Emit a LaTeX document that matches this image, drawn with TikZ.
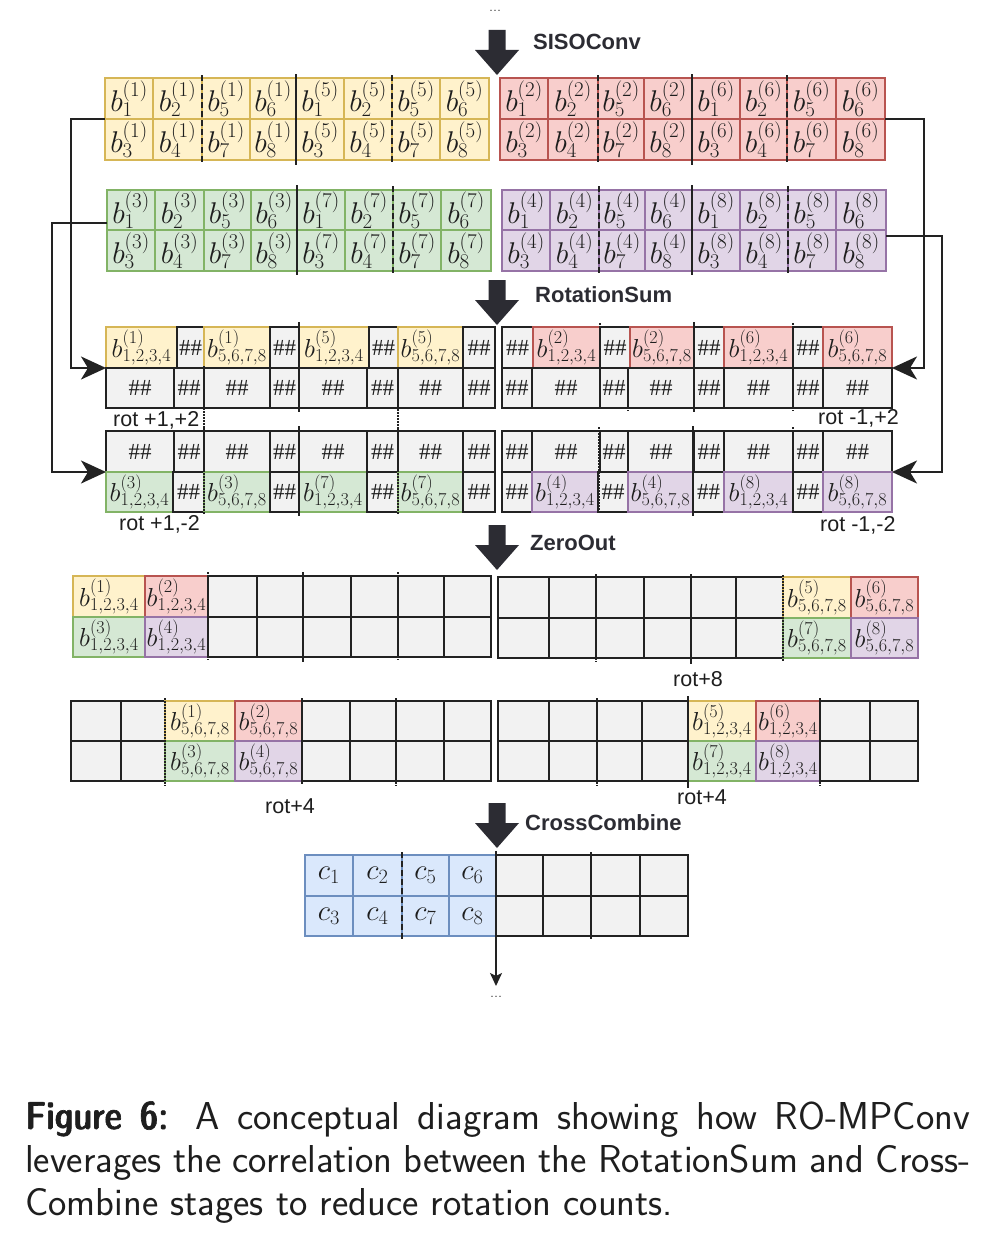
\RequirePackage{fix-cm}
\documentclass[tikz,border=0pt]{standalone}
\usepackage{fontspec}
\newfontfamily\arial{Liberation Sans}
\newfontfamily\tms{Liberation Serif}
\newfontfamily\capb{lmsansdemicond10-regular.otf}[FakeBold=1.6]
\usetikzlibrary{arrows.meta}
\definecolor{yfill}{HTML}{FFF2CC}\definecolor{yline}{HTML}{D6B656}
\definecolor{rfill}{HTML}{F8CECC}\definecolor{rline}{HTML}{B85450}
\definecolor{gfill}{HTML}{D5E8D4}\definecolor{gline}{HTML}{82B366}
\definecolor{pfill}{HTML}{E1D5E7}\definecolor{pline}{HTML}{9673A6}
\definecolor{bfill}{HTML}{DAE8FC}\definecolor{bline}{HTML}{6C8EBF}
\definecolor{kfill}{HTML}{F2F2F2}\definecolor{kline}{HTML}{222222}
\definecolor{arrc}{HTML}{2C2C33}\definecolor{txt}{HTML}{1E1E1E}
\newcommand\cel[7]{\node[#6,anchor=north west,inner sep=0pt,outer sep=0pt,minimum width={(#4)-(#2)},minimum height={(#5)-(#3)}] (#1) at (#2,#3) {#7};}
\newcommand\cellrow[5]{\foreach \xa/\xb/\st/\tx [count=\n] in {#4} {\cel{#1\n}{\xa}{#2}{\xb}{#3}{\st}{\fontsize{#5}{#5}\selectfont\tx}}}
\newcommand\bigrow[5]{\foreach \xa/\xb/\sa/\sb [count=\n] in {#5} {\cel{#1\n}{\xa}{#3}{\xb}{#4}{#2}{\fontsize{30}{30}\selectfont$b^{(\sa)}_{\sb}$}}}
\newcommand\hh{{\tms\fontsize{23}{23}\selectfont\#\#}}
\newcommand\bigarr[2]{\fill[arrc] (#1-8.5,#2) -- (#1+8.5,#2) -- (#1+8.5,#2+20) -- (#1+22,#2+20) -- (#1,#2+45) -- (#1-22,#2+20) -- (#1-8.5,#2+20) -- cycle;}
\begin{document}
\begin{tikzpicture}[x=1pt,y=-1pt,
  cY/.style={fill=yfill,draw=yline,line width=2.5pt,text=txt},
  cR/.style={fill=rfill,draw=rline,line width=2.5pt,text=txt},
  cG/.style={fill=gfill,draw=gline,line width=2.5pt,text=txt},
  cP/.style={fill=pfill,draw=pline,line width=2.5pt,text=txt},
  cB/.style={fill=bfill,draw=bline,line width=2.5pt,text=txt},
  cK/.style={fill=kfill,draw=kline,line width=2.2pt,text=txt},
  sepS/.style={draw=kline,line width=2.2pt},
  sepD/.style={draw=kline,line width=2.2pt,dash pattern=on 6pt off 3pt},
  sepT/.style={draw=kline,line width=2pt,dash pattern=on 1.5pt off 1.5pt},
  conn/.style={draw=kline,line width=2pt,-{Stealth[length=25pt,width=23pt,inset=7pt]}},
  conn2/.style={draw=kline,line width=1.6pt,-{Stealth[length=13pt,width=12pt,inset=3pt]}},
  stage/.style={font=\arial\bfseries\fontsize{22}{24}\selectfont,text=arrc,inner sep=0pt,anchor=west},
  rlab/.style={font=\arial\fontsize{21.5}{24}\selectfont,text=txt,inner sep=0pt,anchor=west},
  dots/.style={font=\fontsize{16}{16}\selectfont,text=txt,inner sep=0pt,anchor=base},
  capt/.style={anchor=base west,inner sep=0pt,text=txt,font=\sffamily\fontsize{38.9}{43}\selectfont}]
\fill[white] (0,0) rectangle (993,1247);
\useasboundingbox (0,0) rectangle (993,1247);

% ---------- SISOConv ----------
\node[dots] (topdots) at (495,12) {...};
\bigarr{497}{30}
\node[stage] (siso) at (533,42) {SISOConv};

\bigrow{ya}{cY}{78}{119}{105/153/1/1,153/202/1/2,202/250/1/5,250/296/1/6,296/344/5/1,344/392/5/2,392/440/5/5,440/489/5/6}
\bigrow{yb}{cY}{119}{160}{105/153/1/3,153/202/1/4,202/250/1/7,250/296/1/8,296/344/5/3,344/392/5/4,392/440/5/7,440/489/5/8}
\bigrow{ra}{cR}{78}{119}{500/548/2/1,548/598/2/2,598/644/2/5,644/692/2/6,692/740/6/1,740/787/6/2,787/836/6/5,836/885/6/6}
\bigrow{rb}{cR}{119}{160}{500/548/2/3,548/598/2/4,598/644/2/7,644/692/2/8,692/740/6/3,740/787/6/4,787/836/6/7,836/885/6/8}
\bigrow{ga}{cG}{190}{230}{107/155/3/1,155/204/3/2,204/251/3/5,251/297/3/6,297/345/7/1,345/393/7/2,393/441/7/5,441/491/7/6}
\bigrow{gb}{cG}{230}{271}{107/155/3/3,155/204/3/4,204/251/3/7,251/297/3/8,297/345/7/3,345/393/7/4,393/441/7/7,441/491/7/8}
\bigrow{pa}{cP}{190}{230}{502/550/4/1,550/599/4/2,599/645/4/5,645/692/4/6,692/740/8/1,740/788/8/2,788/836/8/5,836/886/8/6}
\bigrow{pb}{cP}{230}{271}{502/550/4/3,550/599/4/4,599/645/4/7,645/692/4/8,692/740/8/3,740/788/8/4,788/836/8/7,836/886/8/8}

\draw[sepD] (202,75) -- (202,163);
\draw[sepS] (296,74) -- (296,165);
\draw[sepD] (392,75) -- (392,163);
\draw[sepD] (598,75) -- (598,163);
\draw[sepS] (692,74) -- (692,165);
\draw[sepD] (787,75) -- (787,163);
\draw[sepS] (297,185) -- (297,275);
\draw[sepD] (393,186) -- (393,275);
\draw[sepD] (599,186) -- (599,275);
\draw[sepS] (692,185) -- (692,275);
\draw[sepD] (788,186) -- (788,275);

% ---------- RotationSum ----------
\bigarr{497}{280}
\node[stage] (rsum) at (535,295) {RotationSum};

\cellrow{la}{327}{368}{106/177/cY/{$b^{(1)}_{1,2,3,4}$},177/204/cK/\hh,204/270/cY/{$b^{(1)}_{5,6,7,8}$},270/299/cK/\hh,299/369/cY/{$b^{(5)}_{1,2,3,4}$},369/398/cK/\hh,398/463/cY/{$b^{(5)}_{5,6,7,8}$},463/495/cK/\hh}{26}
\cellrow{lb}{368}{408}{106/174/cK/\hh,174/204/cK/\hh,204/270/cK/\hh,270/299/cK/\hh,299/367/cK/\hh,367/398/cK/\hh,398/463/cK/\hh,463/495/cK/\hh}{26}
\cellrow{lc}{431}{472}{106/174/cK/\hh,174/204/cK/\hh,204/270/cK/\hh,270/299/cK/\hh,299/367/cK/\hh,367/398/cK/\hh,398/463/cK/\hh,463/495/cK/\hh}{26}
\cellrow{ld}{472}{512}{106/173/cG/{$b^{(3)}_{1,2,3,4}$},173/204/cK/\hh,204/270/cG/{$b^{(3)}_{5,6,7,8}$},270/299/cK/\hh,299/367/cG/{$b^{(7)}_{1,2,3,4}$},367/398/cK/\hh,398/463/cG/{$b^{(7)}_{5,6,7,8}$},463/495/cK/\hh}{26}

\cellrow{ma}{327}{368}{502/533/cK/\hh,533/600/cR/{$b^{(2)}_{1,2,3,4}$},600/630/cK/\hh,630/694/cR/{$b^{(2)}_{5,6,7,8}$},694/724/cK/\hh,724/793/cR/{$b^{(6)}_{1,2,3,4}$},793/823/cK/\hh,823/892/cR/{$b^{(6)}_{5,6,7,8}$}}{26}
\cellrow{mb}{368}{408}{502/532/cK/\hh,532/600/cK/\hh,600/628/cK/\hh,628/694/cK/\hh,694/724/cK/\hh,724/793/cK/\hh,793/823/cK/\hh,823/892/cK/\hh}{26}
\cellrow{mc}{431}{472}{502/532/cK/\hh,532/600/cK/\hh,600/628/cK/\hh,628/694/cK/\hh,694/724/cK/\hh,724/793/cK/\hh,793/823/cK/\hh,823/892/cK/\hh}{26}
\cellrow{md}{472}{512}{502/532/cK/\hh,532/598/cP/{$b^{(4)}_{1,2,3,4}$},598/628/cK/\hh,628/693/cP/{$b^{(4)}_{5,6,7,8}$},693/724/cK/\hh,724/793/cP/{$b^{(8)}_{1,2,3,4}$},793/823/cK/\hh,823/892/cP/{$b^{(8)}_{5,6,7,8}$}}{26}

\draw[sepT] (204,366) -- (204,428);
\draw[sepS] (299,322) -- (299,412);
\draw[sepT] (398,406) -- (398,428);
\draw[sepT] (204,428) -- (204,514);
\draw[sepS] (299,426) -- (299,516);
\draw[sepT] (398,428) -- (398,514);
\draw[sepT] (600,323) -- (600,368);
\draw[sepT] (628,368) -- (628,411);
\draw[sepS] (694,322) -- (694,412);
\draw[sepT] (793,323) -- (793,411);
\draw[sepT] (599,427) -- (599,514);
\draw[sepS] (693,426) -- (693,516);
\draw[sepT] (793,427) -- (793,514);

\node[rlab] (r12) at (113,420) {rot +1,+2};
\node[rlab] (r1m2) at (119,524) {rot +1,-2};
\node[rlab] (rm12) at (818,418) {rot -1,+2};
\node[rlab] (rm1m2) at (820,525) {rot -1,-2};

\draw[conn] (ya1.south west) -- ++(-34,0) |- (la1.south west);
\draw[conn] ([yshift=7pt]ga1.south west) -- ++(-55,0) |- (ld1.north west);
\draw[conn] (ra8.south east) -- ++(39,0) |- (ma8.south east);
\draw[conn] ([yshift=-6pt]pa8.south east) -- ++(56,0) |- (md8.north east);

% ---------- ZeroOut ----------
\bigarr{497}{525}
\node[stage] (zout) at (530,543) {ZeroOut};

\cellrow{na}{576}{617}{73/145/cY/{$b^{(1)}_{1,2,3,4}$},145/208/cR/{$b^{(2)}_{1,2,3,4}$},208/257/cK/{},257/303/cK/{},303/351/cK/{},351/398/cK/{},398/444/cK/{},444/491/cK/{}}{26}
\cellrow{nb}{617}{657}{73/145/cG/{$b^{(3)}_{1,2,3,4}$},145/208/cP/{$b^{(4)}_{1,2,3,4}$},208/257/cK/{},257/303/cK/{},303/351/cK/{},351/398/cK/{},398/444/cK/{},444/491/cK/{}}{26}
\cellrow{oa}{577}{618}{498/549/cK/{},549/596/cK/{},596/644/cK/{},644/691/cK/{},691/736/cK/{},736/783/cK/{},783/851/cY/{$b^{(5)}_{5,6,7,8}$},851/918/cR/{$b^{(6)}_{5,6,7,8}$}}{26}
\cellrow{ob}{618}{658}{498/549/cK/{},549/596/cK/{},596/644/cK/{},644/691/cK/{},691/736/cK/{},736/783/cK/{},783/851/cG/{$b^{(7)}_{5,6,7,8}$},851/918/cP/{$b^{(8)}_{5,6,7,8}$}}{26}
\draw[sepT] (208,572) -- (208,660);
\draw[sepS] (303,572) -- (303,662);
\draw[sepT] (398,572) -- (398,660);
\draw[sepT] (596,574) -- (596,662);
\draw[sepS] (691,574) -- (691,664);
\draw[sepT] (783,575) -- (783,662);
\node[rlab] (r8) at (673,679) {rot+8};

\cellrow{qa}{701}{741}{71/121/cK/{},121/165/cK/{},165/235/cY/{$b^{(1)}_{5,6,7,8}$},235/302/cR/{$b^{(2)}_{5,6,7,8}$},302/350/cK/{},350/396/cK/{},396/444/cK/{},444/491/cK/{}}{26}
\cellrow{qb}{741}{781}{71/121/cK/{},121/165/cK/{},165/235/cG/{$b^{(3)}_{5,6,7,8}$},235/302/cP/{$b^{(4)}_{5,6,7,8}$},302/350/cK/{},350/396/cK/{},396/444/cK/{},444/491/cK/{}}{26}
\cellrow{sa}{701}{741}{498/549/cK/{},549/597/cK/{},597/642/cK/{},642/688/cK/{},688/756/cY/{$b^{(5)}_{1,2,3,4}$},756/820/cR/{$b^{(6)}_{1,2,3,4}$},820/870/cK/{},870/918/cK/{}}{26}
\cellrow{sb}{741}{781}{498/549/cK/{},549/597/cK/{},597/642/cK/{},642/688/cK/{},688/756/cG/{$b^{(7)}_{1,2,3,4}$},756/820/cP/{$b^{(8)}_{1,2,3,4}$},820/870/cK/{},870/918/cK/{}}{26}
\draw[sepT] (165,698) -- (165,786);
\draw[sepS] (302,698) -- (302,784);
\draw[sepT] (396,698) -- (396,786);
\draw[sepT] (597,698) -- (597,786);
\draw[sepS] (688,696) -- (688,788);
\draw[sepT] (820,698) -- (820,786);
\node[rlab] (r4a) at (265,806) {rot+4};
\node[rlab] (r4b) at (677,797) {rot+4};

% ---------- CrossCombine ----------
\bigarr{497}{803}
\node[stage] (ccomb) at (525,823) {CrossCombine};

\cellrow{ta}{855}{896}{305/353/cB/{$c_1$},353/402/cB/{$c_2$},402/449/cB/{$c_5$},449/496/cB/{$c_6$},496/543/cK/{},543/591/cK/{},591/640/cK/{},640/688/cK/{}}{29}
\cellrow{tb}{896}{936}{305/353/cB/{$c_3$},353/402/cB/{$c_4$},402/449/cB/{$c_7$},449/496/cB/{$c_8$},496/543/cK/{},543/591/cK/{},591/640/cK/{},640/688/cK/{}}{29}
\draw[sepD] (402,852) -- (402,940);
\draw[sepS] (496,851) -- (496,940);
\draw[sepD] (591,852) -- (591,940);

\coordinate (endB) at (496,986);
\draw[conn2] (tb4.south east) -- (endB);
\node[dots] (botdots) at (496,997) {...};

% ---------- caption ----------
\node[capt] (cap1) at (25,1129) {\makebox[945pt][s]{{\capb Figure 6:} A conceptual diagram showing how RO-MPConv}};
\node[capt] (cap2) at (25,1172) {\makebox[945pt][s]{leverages the correlation between the RotationSum and Cross-}};
\node[capt] (cap3) at (25,1215) {Combine stages to reduce rotation counts.};
\end{tikzpicture}
\end{document}
